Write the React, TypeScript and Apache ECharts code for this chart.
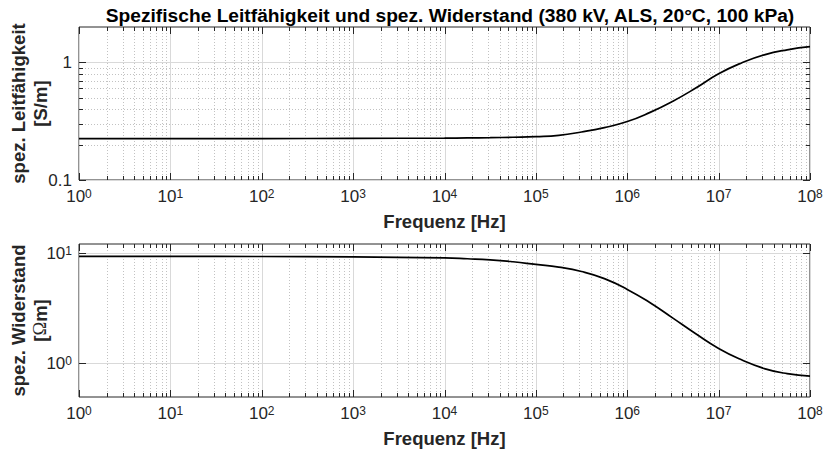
import React, { useEffect, useRef } from 'react';
import * as echarts from 'echarts';

const titleText = 'Spezifische Leitfähigkeit und spez. Widerstand (380 kV, ALS, 20°C, 100 kPa)';
const xAxisTitle = 'Frequenz [Hz]';
const topYTitle = 'spez. Leitfähigkeit\n[S/m]';
const bottomYTitleLine1 = 'spez. Widerstand';
const bottomYUnit = ['[', 'Ω', 'm]'];

// Frequency samples [Hz]
const frequencies = [
  1, 10, 100, 1e3, 1e4, 1.78e4, 3.16e4, 5.62e4, 1e5, 1.78e5, 3.16e5, 5.62e5,
  1e6, 1.78e6, 3.16e6, 5.62e6, 1e7, 1.78e7, 3.16e7, 5.62e7, 1e8,
];
// spez. Leitfähigkeit [S/m]
const conductivity = [
  0.225, 0.225, 0.225, 0.226, 0.227, 0.228, 0.229, 0.231, 0.234, 0.240, 0.256, 0.279,
  0.314, 0.376, 0.468, 0.605, 0.800, 0.990, 1.160, 1.280, 1.360,
];
// spez. Widerstand [Ωm]
const resistivity = [
  9.4, 9.4, 9.38, 9.3, 9.1, 8.95, 8.75, 8.4, 7.94, 7.5, 6.84, 5.89,
  4.7, 3.55, 2.57, 1.85, 1.36, 1.07, 0.89, 0.8, 0.76,
];

// axis ranges
const xRange = [1, 1e8];
const topYRange = [0.1, 2];
const bottomYRange = [0.49, 12.2];

// grid / tick positions
const xDecades = [1, 10, 100, 1e3, 1e4, 1e5, 1e6, 1e7, 1e8];
const minorMultipliers = [2, 3, 4, 5, 6, 7, 8, 9];
const topYMajor = [0.1, 1];
const topYMinor = [0.2, 0.3, 0.4, 0.5, 0.6, 0.7, 0.8, 0.9];
const bottomYMajor = [1, 10];

const FONT = '"Liberation Sans", Arial, Helvetica, sans-serif';
const SERIF = '"Liberation Serif", "DejaVu Serif", serif';
const AX = '#262626';

const GRID_LEFT = 79;
const GRID_W = 731;
const GRID_H = 153;
const TOP_GRID_TOP = 27;
const BOTTOM_GRID_TOP = 244;

const xGridData: number[][] = [];
xDecades.forEach((d, i) => {
  xGridData.push([d, 1, 1]);
  if (i < xDecades.length - 1) minorMultipliers.forEach((m) => xGridData.push([d * m, 1, 0]));
});
const topYGridData: number[][] = [
  ...topYMajor.map((v) => [1, v, 1]),
  ...topYMinor.map((v) => [1, v, 0]),
];
const bottomYGridData: number[][] = bottomYMajor.map((v) => [1, v, 1]);

function isDecade(v: number) {
  const l = Math.log10(v);
  return Math.abs(l - Math.round(l)) < 1e-6;
}

function gridRenderer(dir: 'x' | 'y') {
  return (params: any, api: any) => {
    const cs = params.coordSys;
    const major = api.value(2) === 1;
    const p = api.coord([api.value(0), api.value(1)]);
    const tickLen = major ? 7 : 4;
    const gridStyle = major
      ? { stroke: '#d9d9d9', lineWidth: 1 }
      : { stroke: '#c2c2c2', lineWidth: 1, lineDash: [1, 2] };
    const tickStyle = { stroke: AX, lineWidth: 1 };
    if (dir === 'x') {
      const x = Math.round(p[0]) + 0.5;
      const t = cs.y;
      const b = cs.y + cs.height;
      return {
        type: 'group',
        children: [
          { type: 'line', shape: { x1: x, y1: t, x2: x, y2: b }, style: gridStyle },
          { type: 'line', shape: { x1: x, y1: b, x2: x, y2: b - tickLen }, style: tickStyle },
          { type: 'line', shape: { x1: x, y1: t, x2: x, y2: t + tickLen }, style: tickStyle },
        ],
      };
    }
    const y = Math.round(p[1]) + 0.5;
    const l = cs.x;
    const r = cs.x + cs.width;
    return {
      type: 'group',
      children: [
        { type: 'line', shape: { x1: l, y1: y, x2: r, y2: y }, style: gridStyle },
        { type: 'line', shape: { x1: l, y1: y, x2: l + tickLen, y2: y }, style: tickStyle },
        { type: 'line', shape: { x1: r, y1: y, x2: r - tickLen, y2: y }, style: tickStyle },
      ],
    };
  };
}

const powRich = {
  b: { fontSize: 17, lineHeight: 17, verticalAlign: 'bottom', color: AX, fontFamily: FONT },
  s: { fontSize: 12, lineHeight: 12, verticalAlign: 'top', padding: [0, 0, 8, 0], color: AX, fontFamily: FONT },
};

const powFormatter = (v: number) => {
  if (!isDecade(v)) return '';
  return `{b|10}{s|${Math.round(Math.log10(v))}}`;
};

const nameStyle = { fontSize: 18.5, fontWeight: 'bold', color: AX, fontFamily: FONT };

function makeXAxis(gridIndex: number) {
  return {
    type: 'log',
    logBase: 10,
    gridIndex,
    min: xRange[0],
    max: xRange[1],
    interval: 1,
    name: xAxisTitle,
    nameLocation: 'middle',
    nameGap: 32,
    nameTextStyle: nameStyle,
    axisLine: { show: false },
    axisTick: { show: false },
    splitLine: { show: false },
    axisLabel: { margin: 8, formatter: powFormatter, rich: powRich },
  };
}

export default function App() {
  const ref = useRef<HTMLDivElement>(null);
  useEffect(() => {
    document.body.style.margin = '0';
    if (!ref.current) return;
    const chart = echarts.init(ref.current, undefined, { renderer: 'svg' });
    const gridCommon = {
      show: true,
      borderColor: AX,
      borderWidth: 1,
      backgroundColor: '#ffffff',
      containLabel: false,
      outerBoundsMode: 'none',
    };
    const topData = frequencies.map((f, i) => [f, conductivity[i]]);
    const bottomData = frequencies.map((f, i) => [f, resistivity[i]]);
    const yNameX = 29;
    chart.setOption({
      animation: false,
      backgroundColor: '#ffffff',
      title: {
        text: titleText,
        left: 445,
        top: 1,
        textAlign: 'center',
        textStyle: { fontSize: 19.2, fontWeight: 'bold', color: '#000', fontFamily: FONT },
      },
      graphic: [
        {
          type: 'text',
          x: yNameX,
          y: TOP_GRID_TOP + GRID_H / 2,
          rotation: Math.PI / 2,
          style: {
            text: topYTitle,
            align: 'center',
            verticalAlign: 'middle',
            lineHeight: 22,
            fill: AX,
            font: `bold 18.5px ${FONT}`,
          },
        },
        {
          type: 'text',
          x: yNameX,
          y: BOTTOM_GRID_TOP + GRID_H / 2,
          rotation: Math.PI / 2,
          style: {
            text: `{b|${bottomYTitleLine1}}\n{b|${bottomYUnit[0]}}{o|${bottomYUnit[1]}}{b|${bottomYUnit[2]}}`,
            align: 'center',
            verticalAlign: 'middle',
            lineHeight: 22,
            fill: AX,
            font: `bold 18.5px ${FONT}`,
            rich: {
              b: { fontSize: 18.5, fontWeight: 'bold', fontFamily: FONT, fill: AX, lineHeight: 22 },
              o: { fontSize: 18.5, fontWeight: 'normal', fontFamily: SERIF, fill: AX, lineHeight: 22 },
            },
          },
        },
      ],
      grid: [
        { left: GRID_LEFT, top: TOP_GRID_TOP, width: GRID_W, height: GRID_H, ...gridCommon },
        { left: GRID_LEFT, top: BOTTOM_GRID_TOP, width: GRID_W, height: GRID_H, ...gridCommon },
      ],
      xAxis: [makeXAxis(0), makeXAxis(1)],
      yAxis: [
        {
          type: 'log',
          logBase: 10,
          gridIndex: 0,
          min: topYRange[0],
          max: topYRange[1],
          axisLine: { show: false },
          axisTick: { show: false },
          splitLine: { show: false },
          axisLabel: {
            margin: 7,
            fontSize: 17,
            color: AX,
            fontFamily: FONT,
            formatter: (v: number) => (isDecade(v) ? String(Number(v.toPrecision(1))) : ''),
          },
        },
        {
          type: 'log',
          logBase: 10,
          gridIndex: 1,
          min: bottomYRange[0],
          max: bottomYRange[1],
          axisLine: { show: false },
          axisTick: { show: false },
          splitLine: { show: false },
          axisLabel: { margin: 7, formatter: powFormatter, rich: powRich },
        },
      ],
      series: [
        { type: 'custom', xAxisIndex: 0, yAxisIndex: 0, z: 1, silent: true, renderItem: gridRenderer('x'), data: xGridData },
        { type: 'custom', xAxisIndex: 0, yAxisIndex: 0, z: 1, silent: true, renderItem: gridRenderer('y'), data: topYGridData },
        { type: 'custom', xAxisIndex: 1, yAxisIndex: 1, z: 1, silent: true, renderItem: gridRenderer('x'), data: xGridData },
        { type: 'custom', xAxisIndex: 1, yAxisIndex: 1, z: 1, silent: true, renderItem: gridRenderer('y'), data: bottomYGridData },
        {
          type: 'line',
          xAxisIndex: 0,
          yAxisIndex: 0,
          z: 5,
          data: topData,
          showSymbol: false,
          smooth: 0.5,
          lineStyle: { color: '#000', width: 1.7 },
        },
        {
          type: 'line',
          xAxisIndex: 1,
          yAxisIndex: 1,
          z: 5,
          data: bottomData,
          showSymbol: false,
          smooth: 0.5,
          lineStyle: { color: '#000', width: 1.7 },
        },
      ],
    });
    return () => chart.dispose();
  }, []);
  return <div ref={ref} style={{ width: 827, height: 450 }} />;
}
